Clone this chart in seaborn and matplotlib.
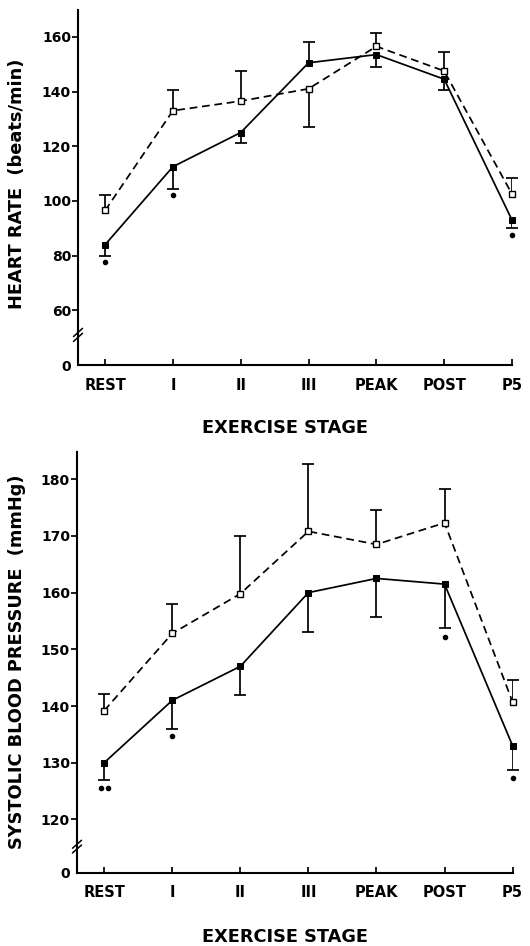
import numpy as np
import matplotlib
matplotlib.use("Agg")
import matplotlib.pyplot as plt
import matplotlib.transforms as mtransforms
import seaborn as sns

# ---------------- data ----------------
stages = ["REST", "I", "II", "III", "PEAK", "POST", "P5"]

hr_solid = [84, 112.5, 125, 150.5, 153.5, 144.5, 93]
hr_solid_err = [80, 104.5, 121, 158, 149, 140.5, 90]
hr_open = [96.5, 133, 136.5, 141, 156.5, 147.5, 102.5]
hr_open_err = [102, 140.5, 147.5, 127, 161.5, 154.5, 108.5]
hr_sig_x = [0, 1, 6]
hr_sig_y = [77.5, 102, 87.5]
hr_yticks = [60, 80, 100, 120, 140, 160]

sbp_solid = [130, 141, 147, 160, 162.5, 161.5, 133]
sbp_solid_err = [127, 136, 142, 153, 155.7, 153.7, 128.7]
sbp_open = [139.2, 152.8, 159.8, 170.8, 168.5, 172.3, 140.7]
sbp_open_err = [142.1, 158, 170, 182.6, 174.5, 178.2, 144.6]
sbp_sig_x = [-0.05, 0.05, 1, 5, 6]
sbp_sig_y = [125.5, 125.5, 134.7, 152.2, 127.3]
sbp_yticks = [120, 130, 140, 150, 160, 170, 180]

sns.set_style("ticks")
plt.rcParams["font.family"] = ["DejaVu Sans"]
plt.rcParams["font.weight"] = "bold"
for k in ["text.color", "axes.labelcolor", "xtick.color", "ytick.color",
          "axes.edgecolor"]:
    plt.rcParams[k] = "black"

W, H = 530, 946
fig = plt.figure(figsize=(W / 100, H / 100), dpi=100)
ax1 = fig.add_axes([78 / W, 1 - 365 / H, 434 / W, 355 / H])
ax2 = fig.add_axes([77 / W, 1 - 872.7 / H, 435.6 / W, 420.7 / H])

LW = 1.25


def panel(ax, solid, solid_err, opn, opn_err, sig_x, sig_y, ylim, yticks,
          ybreak, break_dy):
    x = np.arange(len(stages))
    # error bars (one-sided)
    ax.vlines(x, solid, solid_err, color="black", lw=LW, zorder=2)
    ax.vlines(x, opn, opn_err, color="black", lw=LW, zorder=2)
    ax.scatter(x, solid_err, marker="_", s=65, color="black", linewidths=LW,
               zorder=2, clip_on=False)
    ax.scatter(x, opn_err, marker="_", s=65, color="black", linewidths=LW,
               zorder=2, clip_on=False)
    sns.lineplot(x=x, y=solid, ax=ax, color="black", lw=LW, marker="s",
                 markersize=4.5, markerfacecolor="black", markeredgecolor="black",
                 zorder=4, clip_on=False)
    sns.lineplot(x=x, y=opn, ax=ax, color="black", lw=LW,
                 linestyle=(0, (4.5, 2.7)), marker="s", markersize=4.0,
                 markerfacecolor="white", markeredgecolor="black",
                 markeredgewidth=1.0, zorder=5, clip_on=False)
    ax.scatter(sig_x, sig_y, s=9, color="black", zorder=3, clip_on=False)

    ax.set_xlim(-0.4, 6.0)
    ax.set_ylim(*ylim)
    ax.set_xticks(x)
    ax.set_xticklabels(stages, fontsize=10.5, fontweight="bold")
    ax.set_yticks([ylim[0]] + yticks)
    ax.set_yticklabels(["0"] + [str(t) for t in yticks], fontsize=10,
                       fontweight="bold")
    ax.tick_params(axis="x", direction="in", length=4, width=LW, pad=9)
    ax.tick_params(axis="y", direction="out", length=4, width=LW, pad=1)
    ax.yaxis.get_major_ticks()[0].tick1line.set_visible(False)
    for s in ["top", "right"]:
        ax.spines[s].set_visible(False)
    for s in ["left", "bottom"]:
        ax.spines[s].set_linewidth(1.5)
    ax.set_xlabel("")
    ax.set_ylabel("")
    # axis break marks
    tr = mtransforms.blended_transform_factory(ax.transAxes, ax.transData)
    dx = 4.5 / 434
    for off in (-break_dy * 0.6, break_dy * 0.6):
        ax.plot([-dx, dx], [ybreak + off - break_dy, ybreak + off + break_dy],
                transform=tr, color="black", lw=1.1, clip_on=False, zorder=6)


panel(ax1, hr_solid, hr_solid_err, hr_open, hr_open_err, hr_sig_x, hr_sig_y,
      (40, 169.8), hr_yticks, 51, 1.5)
panel(ax2, sbp_solid, sbp_solid_err, sbp_open, sbp_open_err, sbp_sig_x,
      sbp_sig_y, (110.6, 184.8), sbp_yticks, 115.2, 0.7)

fig.text(17 / W, 1 - 184 / H, "HEART RATE  (beats/min)", rotation=90,
         ha="center", va="center", fontsize=12.8, fontweight="bold")
fig.text(17 / W, 1 - 662 / H, "SYSTOLIC BLOOD PRESSURE  (mmHg)", rotation=90,
         ha="center", va="center", fontsize=12.8, fontweight="bold")
fig.text(285 / W, 1 - 428 / H, "EXERCISE STAGE", ha="center", va="center",
         fontsize=12.8, fontweight="bold")
fig.text(285 / W, 1 - 936.5 / H, "EXERCISE STAGE", ha="center", va="center",
         fontsize=12.8, fontweight="bold")

fig.savefig("out.png", dpi=100)
